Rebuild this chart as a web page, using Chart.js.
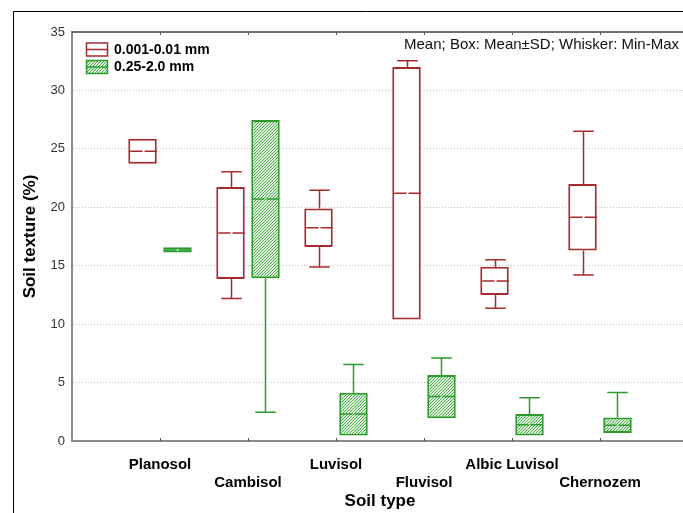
<!DOCTYPE html>
<html>
<head>
<meta charset="utf-8">
<title>Soil texture by soil type</title>
<script src="https://cdn.jsdelivr.net/npm/chart.js@4.4.1/dist/chart.umd.min.js"></script>
<style>
    html, body { margin: 0; padding: 0; background: #fff; overflow: hidden; }
    #wrap { width: 683px; height: 513px; overflow: hidden; }
</style>
</head>
<body>
<div id="wrap"><canvas id="boxChart" width="720" height="513"></canvas></div>
<script>
// Du lieu bieu do (doc tu hinh)
const soilTypes = ["Planosol", "Cambisol", "Luvisol", "Fluvisol", "Albic Luvisol", "Chernozem"];
const seriesNames = ["0.001-0.01 mm", "0.25-2.0 mm"];

const fineMean = [24.8, 17.8, 18.25, 21.2, 13.7, 19.15];
const fineSD = [1.07, 3.93, 1.65, 10.8, 1.21, 2.84];
const fineMin = [23.9, 12.2, 14.9, 10.5, 11.35, 14.2];
const fineMax = [25.7, 23.05, 21.45, 32.55, 15.5, 26.5];

const coarseMean = [16.35, 20.7, 2.3, 3.8, 1.4, 1.35];
const coarseSD = [0.22, 6.77, 1.83, 1.85, 0.92, 0.67];
const coarseMin = [16.2, 2.45, 0.5, 2.1, 0.5, 0.7];
const coarseMax = [16.5, 27.3, 6.55, 7.1, 3.7, 4.15];

const yTicks = [0, 5, 10, 15, 20, 25, 30, 35];
const noteText = "Mean; Box: Mean\u00b1SD; Whisker: Min-Max";

(function () {
    "use strict";
    var HT = {};

    const RED = "#a52a2e";
    const GREEN = "#2b9b2b";
    const FONT = '"Liberation Sans", Arial, sans-serif';

    Chart.defaults.font.family = FONT;

    // Hoa van gach cheo cho hop mau xanh
    HT.hatch = () => {
        const c = document.createElement("canvas");
        c.width = 3;
        c.height = 3;
        const g = c.getContext("2d");
        g.fillStyle = "#e2f3e2";
        g.fillRect(0, 0, 3, 3);
        g.fillStyle = "#48ad48";
        for (let i = 0; i < 3; i++) {
            g.fillRect(i, 2 - i, 1, 1);
        }
        return g.createPattern(c, "repeat");
    };

    HT.series = [
        { mean: fineMean, sd: fineSD, min: fineMin, max: fineMax, color: RED, fill: "#ffffff" },
        { mean: coarseMean, sd: coarseSD, min: coarseMin, max: coarseMax, color: GREEN, fill: HT.hatch() },
    ];

    // Hop = Mean +/- SD
    HT.boxData = (s) => soilTypes.map((n, i) => ({ x: i + 1, y: [s.mean[i] - s.sd[i], s.mean[i] + s.sd[i]] }));

    // Ve duong trung binh, rau (min-max), khung, chu thich
    HT.extras = {
        id: "boxExtras",
        beforeDraw(chart) {
            const c = chart.ctx;
            c.save();
            c.strokeStyle = "#000";
            c.lineWidth = 1;
            c.beginPath();
            c.moveTo(13.5, chart.height);
            c.lineTo(13.5, 11.5);
            c.lineTo(chart.width, 11.5);
            c.stroke();
            c.restore();
        },
        afterDatasetsDraw(chart) {
            const c = chart.ctx;
            const y = chart.scales.y;
            c.save();
            HT.series.forEach((s, d) => {
                const meta = chart.getDatasetMeta(d);
                meta.data.forEach((bar, i) => {
                    const x = Math.round(bar.x) + 0.5;
                    const w = bar.width;
                    const hi = s.mean[i] + s.sd[i];
                    const lo = s.mean[i] - s.sd[i];
                    const pm = y.getPixelForValue(s.mean[i]);
                    const cap = w * 0.36;
                    c.strokeStyle = s.color;
                    c.lineWidth = 1.5;
                    c.beginPath();
                    c.moveTo(x - w / 2 + 1, pm); c.lineTo(x - 1, pm);
                    c.moveTo(x + 1, pm); c.lineTo(x + w / 2 - 1, pm);
                    if (s.max[i] > hi) {
                        const p = y.getPixelForValue(s.max[i]);
                        c.moveTo(x, y.getPixelForValue(hi)); c.lineTo(x, p);
                        c.moveTo(x - cap, p); c.lineTo(x + cap, p);
                    }
                    if (s.min[i] < lo) {
                        const p = y.getPixelForValue(s.min[i]);
                        c.moveTo(x, y.getPixelForValue(lo)); c.lineTo(x, p);
                        c.moveTo(x - cap, p); c.lineTo(x + cap, p);
                    }
                    c.stroke();
                });
            });
            c.restore();
        },
        afterDraw(chart) {
            const c = chart.ctx;
            const a = chart.chartArea;
            const xs = chart.scales.x;
            c.save();
            // khung tren
            c.strokeStyle = "#444";
            c.lineWidth = 1.5;
            c.beginPath();
            c.moveTo(a.left, a.top);
            c.lineTo(chart.width, a.top);
            c.stroke();
            // vach chia nho tren va duoi
            c.strokeStyle = "#555";
            c.lineWidth = 1;
            c.beginPath();
            soilTypes.forEach((n, i) => {
                const px = Math.round(xs.getPixelForValue(i + 1)) + 0.5;
                c.moveTo(px, a.top); c.lineTo(px, a.top + 3);
                c.moveTo(px, a.bottom); c.lineTo(px, a.bottom - 3);
            });
            c.stroke();

            // chu thich
            c.font = "bold 14px " + FONT;
            c.textBaseline = "middle";
            c.textAlign = "left";
            HT.series.forEach((s, d) => {
                const bx = 86.5, by = 43 + d * 17.5, bw = 21, bh = 13;
                c.fillStyle = s.fill;
                c.fillRect(bx, by, bw, bh);
                c.strokeStyle = s.color;
                c.lineWidth = 1.5;
                c.strokeRect(bx, by, bw, bh);
                c.beginPath();
                c.moveTo(bx, by + bh / 2);
                c.lineTo(bx + bw, by + bh / 2);
                c.stroke();
                c.fillStyle = "#000";
                c.fillText(chart.data.datasets[d].label, 114, by + bh / 2 + 0.5);
            });

            // ghi chu goc phai
            c.font = "15px " + FONT;
            c.textAlign = "right";
            c.fillStyle = "#111";
            c.fillText(noteText, 679, 45);
            c.restore();
        },
    };

    HT.createBoxChart = () => {
        const ctx = document.getElementById("boxChart").getContext("2d");
        new Chart(ctx, {
            type: "bar",
            data: {
                datasets: HT.series.map((s, d) => ({
                    label: seriesNames[d],
                    data: HT.boxData(s),
                    backgroundColor: s.fill,
                    borderColor: s.color,
                    borderWidth: 2,
                    borderSkipped: false,
                    categoryPercentage: 0.795,
                    barPercentage: 0.814,
                })),
            },
            options: {
                responsive: false,
                animation: false,
                events: [],
                layout: { padding: { top: 32, left: 0, bottom: 0, right: 32 } },
                plugins: { legend: { display: false }, tooltip: { enabled: false } },
                scales: {
                    x: {
                        type: "linear",
                        min: 0,
                        max: soilTypes.length + 1,
                        offset: false,
                        afterFit: (scale) => { scale.height = 72; },
                        grid: { display: false, offset: false },
                        border: { color: "#8a8a8a", width: 2 },
                        ticks: {
                            stepSize: 1,
                            autoSkip: false,
                            maxRotation: 0,
                            minRotation: 0,
                            padding: 7,
                            color: "#000",
                            font: { size: 15, weight: "bold", lineHeight: 1.2 },
                            callback: (v) => {
                                const n = soilTypes[v - 1];
                                if (!n) return "";
                                return (v % 2 === 1) ? [n, ""] : ["", n];
                            },
                        },
                        title: {
                            display: true,
                            text: "Soil type",
                            color: "#000",
                            font: { size: 17, weight: "bold", lineHeight: 1.2 },
                            padding: { top: 0, bottom: 1 },
                        },
                    },
                    y: {
                        min: yTicks[0],
                        max: yTicks[yTicks.length - 1],
                        afterFit: (scale) => { scale.width = 72; },
                        grid: {
                            color: "#c4c4c4",
                            drawTicks: false,
                        },
                        border: { color: "#8a8a8a", width: 2, dash: [1, 2] },
                        ticks: {
                            stepSize: yTicks[1] - yTicks[0],
                            padding: 7,
                            color: "#333",
                            font: { size: 13 },
                        },
                        title: {
                            display: true,
                            text: "Soil texture (%)",
                            color: "#000",
                            font: { size: 17, weight: "bold", lineHeight: 1.2 },
                            padding: { top: 20, bottom: 0 },
                        },
                    },
                },
            },
            plugins: [HT.extras],
        });
    };

    HT.createBoxChart();
})();
</script>
</body>
</html>
